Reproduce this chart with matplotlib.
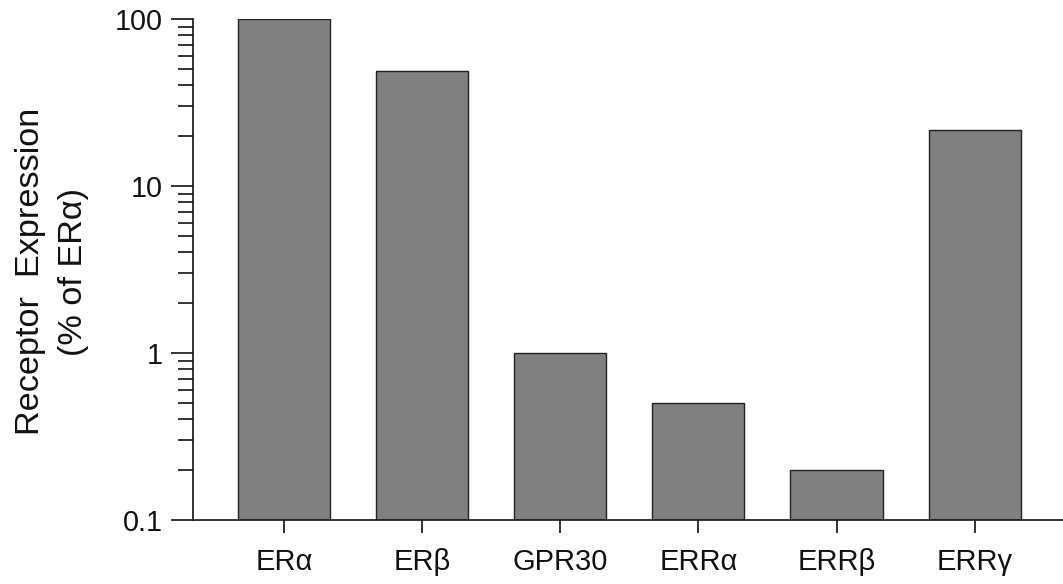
import numpy as np
import matplotlib.pyplot as plt
from matplotlib.ticker import LogLocator, FixedFormatter, FixedLocator

plt.rcParams['font.family'] = ['Liberation Sans', 'DejaVu Sans']

# Data
receptors = ['ERα', 'ERβ', 'GPR30', 'ERRα', 'ERRβ', 'ERRγ']
expression = [100, 49, 1.0, 0.5, 0.2, 21.5]
y_ticks = [0.1, 1, 10, 100]
y_tick_labels = ['0.1', '1', '10', '100']

fig = plt.figure(figsize=(10.63, 5.84), dpi=100)
ax = fig.add_axes([0.1816, 0.1096, 0.8184, 0.8579])

x = np.arange(len(receptors))
ax.bar(x, expression, width=0.667, color='#808080', edgecolor='#222222', linewidth=1.0)

ax.set_yscale('log')
ax.set_ylim(0.1, 100)
ax.set_xlim(-0.66, 5.64)

ax.yaxis.set_major_locator(FixedLocator(y_ticks))
ax.yaxis.set_major_formatter(FixedFormatter(y_tick_labels))
ax.yaxis.set_minor_locator(LogLocator(base=10, subs=np.arange(2, 10)))
ax.yaxis.set_minor_formatter(plt.NullFormatter())

ax.set_xticks(x)
ax.set_xticklabels(receptors)

for s in ['top', 'right']:
    ax.spines[s].set_visible(False)
for s in ['left', 'bottom']:
    ax.spines[s].set_linewidth(1.2)
    ax.spines[s].set_color('#111111')

ax.tick_params(axis='y', which='major', length=16, width=1.2, pad=6, labelsize=20.7, colors='#111111')
ax.tick_params(axis='y', which='minor', length=11, width=1.2, colors='#111111')
ax.tick_params(axis='x', which='major', length=9.5, width=1.2, pad=11, labelsize=21, colors='#111111')

fig.text(0.049, 0.535, 'Receptor  Expression\n(% of ERα)', rotation=90, ha='center', va='center',
         fontsize=24.7, linespacing=1.5, color='#111111')

fig.savefig('out.png', dpi=100)
